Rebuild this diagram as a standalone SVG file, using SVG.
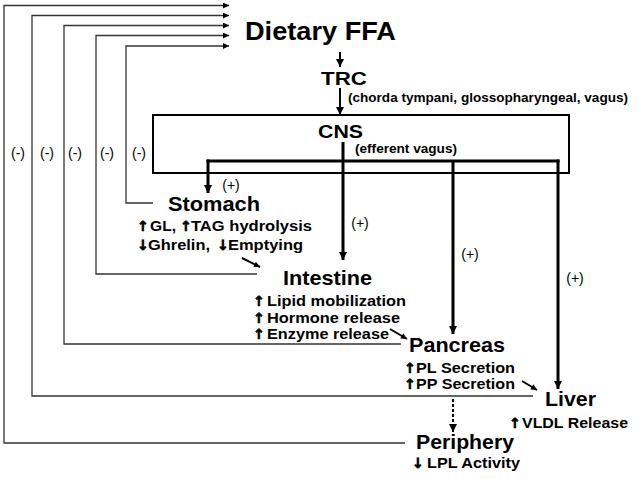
<svg xmlns="http://www.w3.org/2000/svg" width="639" height="479" viewBox="0 0 639 479">
<style>
text{font-family:"Liberation Sans",Arial,sans-serif;font-weight:bold;fill:#000}
.big{font-size:21px}
.sub{font-size:14.5px}
.small{font-size:12px}
.ar{font-family:"DejaVu Sans",sans-serif;font-size:14px;stroke:#000;stroke-width:0.7}
.sign{font-size:14px;font-weight:normal}
.fb{fill:none;stroke:#333;stroke-width:1.3}
.th{fill:none;stroke:#000;stroke-width:3}
.md{fill:none;stroke:#000;stroke-width:2}
</style>
<defs>
<marker id="ah" viewBox="0 0 10 10" refX="10" refY="5" markerWidth="11" markerHeight="8" markerUnits="userSpaceOnUse" orient="auto"><path d="M0,0 L10,5 L0,10 z" fill="#000"/></marker>
<marker id="as" viewBox="0 0 10 10" refX="10" refY="5" markerWidth="8" markerHeight="6" markerUnits="userSpaceOnUse" orient="auto"><path d="M0,0 L10,5 L0,10 z" fill="#000"/></marker>
</defs>
<rect width="639" height="479" fill="#fff"/>
<g id="connectors">
<path class="fb" d="M405,443 H4 V5.5 H229" marker-end="url(#as)"/>
<path class="fb" d="M533,396 H32 V15.5 H229" marker-end="url(#as)"/>
<path class="fb" d="M401,344 H64 V25.5 H229" marker-end="url(#as)"/>
<path class="fb" d="M257,274 H96 V35.5 H229" marker-end="url(#as)"/>
<path class="fb" d="M153,203 H126 V46 H229" marker-end="url(#as)"/>
<path class="md" d="M340,52 V67" marker-end="url(#ah)"/>
<path class="md" d="M340,88 V115" marker-end="url(#ah)"/>
<path class="th" d="M343,142 V260" marker-end="url(#ah)"/>
<path class="th" d="M206.5,161 H559.5"/>
<path class="th" d="M208,159.5 V193" marker-end="url(#ah)"/>
<path class="th" d="M453,161 V334" marker-end="url(#ah)"/>
<path class="th" d="M558,159.5 V389" marker-end="url(#ah)"/>
<path class="md" d="M453,399 V432" stroke-dasharray="3,2" marker-end="url(#ah)"/>
<path class="md" stroke-width="2.5" d="M242,258 L260,267" marker-end="url(#as)"/>
<path class="md" stroke-width="2.5" d="M390,329 L407,339" marker-end="url(#as)"/>
<path class="md" stroke-width="2.5" d="M522,381 L537,390" marker-end="url(#as)"/>
<text class="sign" x="18" y="158" text-anchor="middle">(-)</text>
<text class="sign" x="47" y="158" text-anchor="middle">(-)</text>
<text class="sign" x="75" y="158" text-anchor="middle">(-)</text>
<text class="sign" x="107" y="158" text-anchor="middle">(-)</text>
<text class="sign" x="139" y="158" text-anchor="middle">(-)</text>
<text class="sign" x="231" y="190" text-anchor="middle">(+)</text>
<text class="sign" x="360" y="228" text-anchor="middle">(+)</text>
<text class="sign" x="470" y="259" text-anchor="middle">(+)</text>
<text class="sign" x="575" y="283" text-anchor="middle">(+)</text>
</g>
<g id="dietary"><text x="245" y="40" font-size="25" textLength="151" lengthAdjust="spacingAndGlyphs">Dietary FFA</text></g>
<g id="trc">
<text x="321" y="85" font-size="19" textLength="46" lengthAdjust="spacingAndGlyphs">TRC</text>
<text class="small" x="348" y="102" textLength="280" lengthAdjust="spacingAndGlyphs">(chorda tympani, glossopharyngeal, vagus)</text>
</g>
<g id="cns">
<rect x="153" y="115" width="416" height="58" fill="none" stroke="#000" stroke-width="2"/>
<text x="318" y="138" font-size="19" textLength="45" lengthAdjust="spacingAndGlyphs">CNS</text>
<text class="small" x="355" y="153" textLength="102" lengthAdjust="spacingAndGlyphs">(efferent vagus)</text>
</g>
<g id="stomach">
<text class="big" x="168" y="211" textLength="92" lengthAdjust="spacingAndGlyphs">Stomach</text>
<text class="ar" x="137" y="231">↑</text>
<text class="sub" x="150" y="231" textLength="26" lengthAdjust="spacingAndGlyphs">GL,</text>
<text class="ar" x="180" y="231">↑</text>
<text class="sub" x="191" y="231" textLength="121" lengthAdjust="spacingAndGlyphs">TAG hydrolysis</text>
<text class="ar" x="137" y="250">↓</text>
<text class="sub" x="148" y="250" textLength="62" lengthAdjust="spacingAndGlyphs">Ghrelin,</text>
<text class="ar" x="217" y="250">↓</text>
<text class="sub" x="228" y="250" textLength="75" lengthAdjust="spacingAndGlyphs">Emptying</text>
</g>
<g id="intestine">
<text class="big" x="283" y="285" textLength="89" lengthAdjust="spacingAndGlyphs">Intestine</text>
<text class="ar" x="253" y="306">↑</text>
<text class="sub" x="267" y="306" textLength="139" lengthAdjust="spacingAndGlyphs">Lipid mobilization</text>
<text class="ar" x="253" y="323">↑</text>
<text class="sub" x="267" y="323" textLength="133" lengthAdjust="spacingAndGlyphs">Hormone release</text>
<text class="ar" x="253" y="339">↑</text>
<text class="sub" x="267" y="339" textLength="122" lengthAdjust="spacingAndGlyphs">Enzyme release</text>
</g>
<g id="pancreas">
<text class="big" x="409" y="352" textLength="96" lengthAdjust="spacingAndGlyphs">Pancreas</text>
<text class="ar" x="404" y="373">↑</text>
<text class="sub" x="416" y="373" textLength="99" lengthAdjust="spacingAndGlyphs">PL Secretion</text>
<text class="ar" x="404" y="389">↑</text>
<text class="sub" x="416" y="389" textLength="99" lengthAdjust="spacingAndGlyphs">PP Secretion</text>
</g>
<g id="liver">
<text class="big" x="545" y="406" textLength="51" lengthAdjust="spacingAndGlyphs">Liver</text>
<text class="ar" x="509" y="428">↑</text>
<text class="sub" x="522" y="428" textLength="106" lengthAdjust="spacingAndGlyphs">VLDL Release</text>
</g>
<g id="periphery">
<text class="big" x="416" y="449" textLength="98" lengthAdjust="spacingAndGlyphs">Periphery</text>
<text class="ar" x="412" y="468">↓</text>
<text class="sub" x="427" y="468" textLength="93" lengthAdjust="spacingAndGlyphs">LPL Activity</text>
</g>
</svg>
